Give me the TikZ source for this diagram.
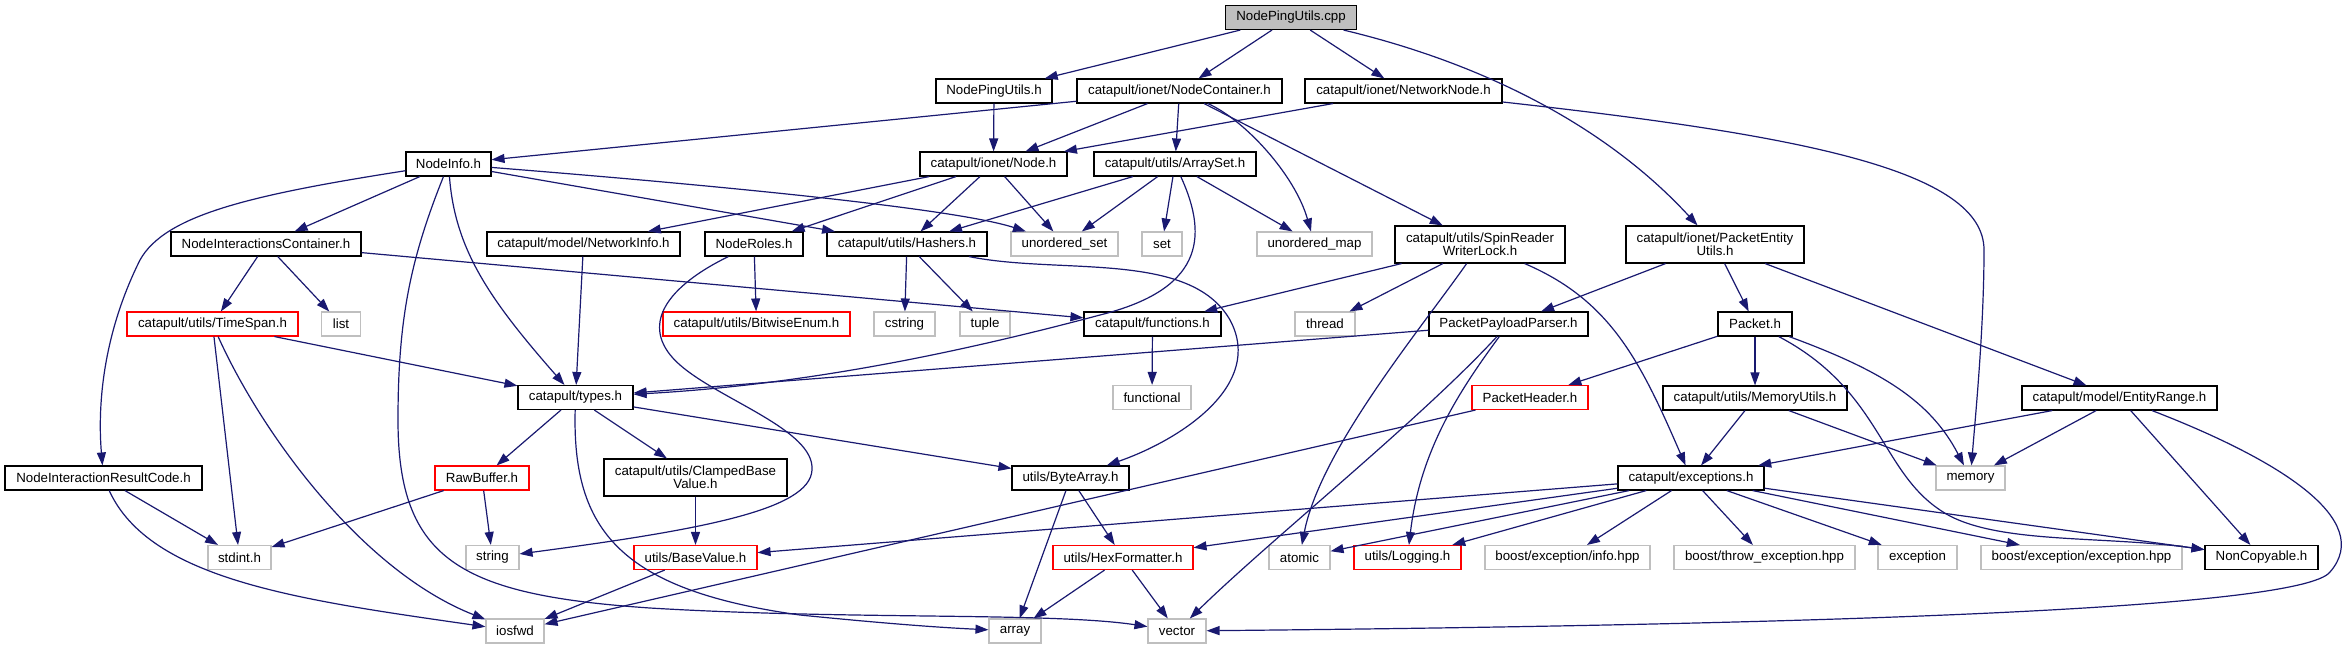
\documentclass[tikz,border=0pt]{standalone}
\usepackage{fontspec}
\setmainfont{Liberation Sans}
\usetikzlibrary{arrows.meta}
\definecolor{edgeblue}{HTML}{191970}
\definecolor{extgrey}{HTML}{BFBFBF}
\begin{document}
\begin{tikzpicture}[x=1pt,y=-1pt,
 box/.style={draw=black,line width=1.1pt,rectangle,minimum height=24pt,inner sep=0pt,font=\fontsize{13.3}{13}\selectfont,align=center},
 ext/.style={box,draw=extgrey},
 trunc/.style={box,draw=red},
 root/.style={box,fill=extgrey},
 two/.style={minimum height=37pt},
 edge/.style={draw=edgeblue,line width=1.2pt,-{Triangle[length=13pt,width=9pt]}}
]
\fill[white] (0,0) rectangle (2352,649);
\useasboundingbox (0,0) rectangle (2352,649);
% row 0
\node[root,minimum width=131pt] (cpp) at (1291,17.5) {NodePingUtils.cpp};
% row 1
\node[box,minimum width=116pt] (nph) at (994,91) {NodePingUtils.h};
\node[box,minimum width=205pt] (nc) at (1179.5,91) {catapult/ionet/NodeContainer.h};
\node[box,minimum width=197pt] (nn) at (1403.5,91) {catapult/ionet/NetworkNode.h};
% row 2
\node[box,minimum width=85pt] (ni) at (448.5,164) {NodeInfo.h};
\node[box,minimum width=147pt] (node) at (993.5,164) {catapult/ionet/Node.h};
\node[box,minimum width=162pt] (as) at (1175,164) {catapult/utils/ArraySet.h};
% row 3
\node[box,minimum width=190pt] (nic) at (266,244) {NodeInteractionsContainer.h};
\node[box,minimum width=193pt] (netinfo) at (583.5,244) {catapult/model/NetworkInfo.h};
\node[box,minimum width=98pt] (roles) at (754,244) {NodeRoles.h};
\node[box,minimum width=160pt] (hash) at (907,244) {catapult/utils/Hashers.h};
\node[ext,minimum width=107pt] (uset) at (1064.5,244) {unordered\_set};
\node[ext,minimum width=40pt] (set) at (1162,244) {set};
\node[ext,minimum width=115pt] (umap) at (1314.5,244) {unordered\_map};
\node[box,two,minimum width=170pt] (srw) at (1480,244.5) {catapult/utils/SpinReader\\WriterLock.h};
\node[box,two,minimum width=178pt] (peu) at (1715,244.5) {catapult/ionet/PacketEntity\\Utils.h};
% row 4
\node[trunc,minimum width=171pt] (ts) at (212.5,324) {catapult/utils/TimeSpan.h};
\node[ext,minimum width=39pt] (list) at (341,324) {list};
\node[trunc,minimum width=187pt] (be) at (756.5,324) {catapult/utils/BitwiseEnum.h};
\node[ext,minimum width=61pt] (cstring) at (904.5,324) {cstring};
\node[ext,minimum width=50pt] (tuple) at (985,324) {tuple};
\node[box,minimum width=137pt] (func) at (1152.5,324) {catapult/functions.h};
\node[ext,minimum width=60pt] (thread) at (1325,324) {thread};
\node[box,minimum width=159pt] (ppp) at (1508.5,324) {PacketPayloadParser.h};
\node[box,minimum width=74pt] (packet) at (1755,324) {Packet.h};
% row 5
\node[box,minimum width=115pt] (types) at (575.5,397.5) {catapult/types.h};
\node[ext,minimum width=78pt] (functional) at (1152,397.5) {functional};
\node[trunc,minimum width=116pt] (ph) at (1530,397.5) {PacketHeader.h};
\node[box,minimum width=184pt] (mu) at (1755,398) {catapult/utils/MemoryUtils.h};
\node[box,minimum width=195pt] (er) at (2119.5,398) {catapult/model/EntityRange.h};
% row 6
\node[box,minimum width=197pt] (nirc) at (103.5,478) {NodeInteractionResultCode.h};
\node[trunc,minimum width=94pt] (rb) at (482,478) {RawBuffer.h};
\node[box,two,minimum width=183pt] (cbv) at (695.5,477.5) {catapult/utils/ClampedBase\\Value.h};
\node[box,minimum width=117pt] (ba) at (1070.5,478) {utils/ByteArray.h};
\node[box,minimum width=146pt] (exc) at (1691,478) {catapult/exceptions.h};
\node[ext,minimum width=69pt] (memory) at (1970.5,478) {memory};
% row 7
\node[ext,minimum width=63pt] (stdint) at (239.5,557.5) {stdint.h};
\node[ext,minimum width=53pt] (string) at (492.5,557.5) {string};
\node[trunc,minimum width=123pt] (bv) at (695.5,557.5) {utils/BaseValue.h};
\node[trunc,minimum width=140pt] (hf) at (1123,557.5) {utils/HexFormatter.h};
\node[ext,minimum width=61pt] (atomic) at (1299.5,557.5) {atomic};
\node[trunc,minimum width=107pt] (log) at (1407.5,557.5) {utils/Logging.h};
\node[ext,minimum width=165pt] (info) at (1567.5,557.5) {boost/exception/info.hpp};
\node[ext,minimum width=181pt] (throw) at (1764.5,557.5) {boost/throw\_exception.hpp};
\node[ext,minimum width=79pt] (exception) at (1917.5,557.5) {exception};
\node[ext,minimum width=201pt] (bee) at (2081.5,557.5) {boost/exception/exception.hpp};
\node[box,minimum width=113pt] (nonc) at (2261.5,557.5) {NonCopyable.h};
% row 8
\node[ext,minimum width=58pt] (iosfwd) at (515,631) {iosfwd};
\node[ext,minimum width=52pt] (array) at (1015,631) {array};
\node[ext,minimum width=58pt] (vector) at (1177,631) {vector};

% straight edges
\foreach \a/\b in {cpp/nph,cpp/nc,cpp/nn,nph/node,nc/ni,nc/node,nc/as,nc/srw,nn/node,
  ni/nic,ni/hash,node/netinfo,node/roles,node/hash,node/uset,as/hash,as/uset,as/set,as/umap,
  hash/cstring,hash/tuple,roles/be,nic/ts,nic/list,nic/func,netinfo/types,ts/types,ts/stdint,
  srw/func,srw/thread,func/functional,peu/ppp,peu/packet,peu/er,ppp/types,packet/ph,packet/mu,
  types/rb,types/cbv,types/ba,ph/iosfwd,mu/exc,mu/memory,er/exc,er/memory,er/nonc,rb/stdint,
  rb/string,cbv/bv,nirc/stdint,ba/array,ba/hf,exc/bv,exc/hf,exc/atomic,exc/log,exc/info,
  exc/throw,exc/exception,exc/bee,exc/nonc,bv/iosfwd,hf/array,hf/vector}
  {\draw[edge] (\a) -- (\b);}

% curved edges
\draw[edge] (cpp) .. controls (1490,65) and (1610,130) .. (peu);
\draw[edge] (nc) .. controls (1245,120) and (1295,175) .. (umap);
\draw[edge] (nn) .. controls (1800,135) and (1984,170) .. (1984,250) .. controls (1984,330) and (1975,420) .. (memory);
\draw[edge] (ni) .. controls (750,188) and (960,210) .. (uset);
\draw[edge] (ni) .. controls (250,195) and (165,215) .. (140,260) .. controls (105,330) and (97,400) .. (nirc);
\draw[edge] (ni) .. controls (455,250) and (490,300) .. (types);
\draw[edge] (ni) .. controls (410,260) and (398,320) .. (398,420) .. controls (398,560) and (460,595) .. (650,608) .. controls (850,620) and (1050,612) .. (vector);
\draw[edge] (as) .. controls (1210,240) and (1200,290) .. (1100,315) .. controls (950,355) and (800,385) .. (types);
\draw[edge] (hash) .. controls (1060,275) and (1190,250) .. (1230,320) .. controls (1265,385) and (1180,440) .. (ba);
\draw[edge] (roles) .. controls (660,290) and (640,330) .. (680,365) .. controls (720,400) and (815,430) .. (812,470) .. controls (810,510) and (700,530) .. (string);
\draw[edge] (ts) .. controls (260,430) and (360,570) .. (iosfwd);
\draw[edge] (srw) .. controls (1420,330) and (1320,450) .. (atomic);
\draw[edge] (srw) .. controls (1610,300) and (1640,360) .. (exc);
\draw[edge] (ppp) .. controls (1420,420) and (1270,540) .. (vector);
\draw[edge] (ppp) .. controls (1460,390) and (1420,450) .. (log);
\draw[edge] (packet) .. controls (1880,370) and (1930,400) .. (memory);
\draw[edge] (packet) .. controls (1880,390) and (1880,470) .. (1940,510) .. controls (1990,545) and (2100,535) .. (nonc);
\draw[edge] (types) .. controls (572,530) and (620,590) .. (800,615) .. controls (900,625) and (950,628) .. (array);
\draw[edge] (er) .. controls (2280,460) and (2375,520) .. (2330,572) .. controls (2300,610) and (1800,625) .. (vector);
\draw[edge] (nirc) .. controls (150,580) and (300,600) .. (iosfwd);
\end{tikzpicture}
\end{document}
